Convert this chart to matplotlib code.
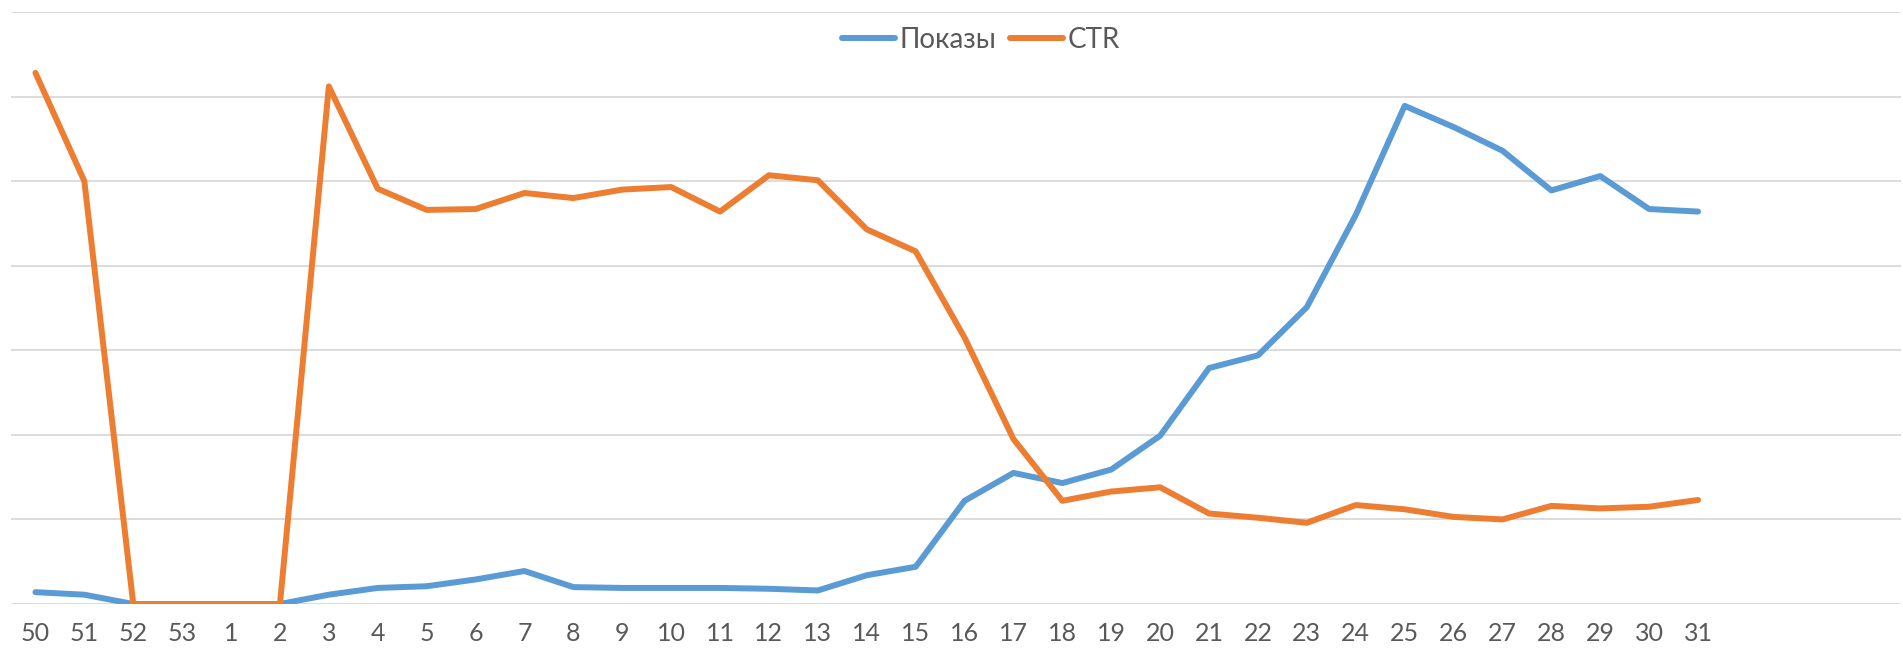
import matplotlib.pyplot as plt

# week numbers (x axis), a few trailing empty slots like in the source sheet
weeks = ['50', '51', '52', '53', '1', '2', '3', '4', '5', '6', '7', '8', '9', '10',
         '11', '12', '13', '14', '15', '16', '17', '18', '19', '20', '21', '22',
         '23', '24', '25', '26', '27', '28', '29', '30', '31']
empty_slots = 4

# values in gridline units (no y labels on the original chart)
shows = [0.14, 0.11, 0.0, 0.0, 0.0, 0.0, 0.11, 0.19, 0.21, 0.29, 0.39, 0.20,
         0.19, 0.19, 0.19, 0.18, 0.16, 0.34, 0.44, 1.22, 1.55, 1.43, 1.59, 1.99,
         2.79, 2.94, 3.51, 4.60, 5.89, 5.64, 5.36, 4.89, 5.06, 4.67, 4.64]
ctr = [6.28, 5.00, 0.0, 0.0, 0.0, 0.0, 6.12, 4.91, 4.66, 4.67, 4.86, 4.80,
       4.90, 4.93, 4.64, 5.07, 5.01, 4.43, 4.17, 3.15, 1.95, 1.22, 1.33, 1.38,
       1.07, 1.02, 0.96, 1.17, 1.12, 1.03, 1.00, 1.16, 1.13, 1.15, 1.23]

plt.rcParams['font.family'] = ['Lato', 'DejaVu Sans']

W, H = 1903, 649
fig = plt.figure(figsize=(W / 100, H / 100), dpi=100)
ax = fig.add_axes([11 / W, 45 / H, 1890 / W, 592 / H])

x = list(range(len(weeks)))
ax.plot(x, shows, color='#5B9BD5', lw=4.3, solid_joinstyle='round',
        solid_capstyle='round', label='Показы', zorder=3)
ax.plot(x, ctr, color='#ED7D31', lw=4.3, solid_joinstyle='round',
        solid_capstyle='round', label='CTR', zorder=3)

n = len(weeks) + empty_slots
ax.set_xlim(-0.5, -0.5 + 1890 / 48.9)
ax.set_ylim(0, 7)
ax.set_xticks(range(n))
ax.set_xticklabels(weeks + [''] * empty_slots, fontsize=18, color='#595959')
ax.set_yticks(range(8))
ax.set_yticklabels([])
ax.tick_params(axis='both', length=0)
ax.tick_params(axis='x', pad=13)
ax.grid(axis='y', color='#d9d9d9', lw=1.3)
ax.grid(axis='x', visible=False)
for s in ax.spines.values():
    s.set_visible(False)

leg = ax.legend(loc='center', bbox_to_anchor=(981 / W, 1 - 40 / H),
                bbox_transform=fig.transFigure, ncol=2, frameon=False,
                fontsize=20, handlelength=1.9, handletextpad=0.15,
                columnspacing=0.5)
for t in leg.get_texts():
    t.set_color('#595959')

fig.savefig('out.png', dpi=100)
